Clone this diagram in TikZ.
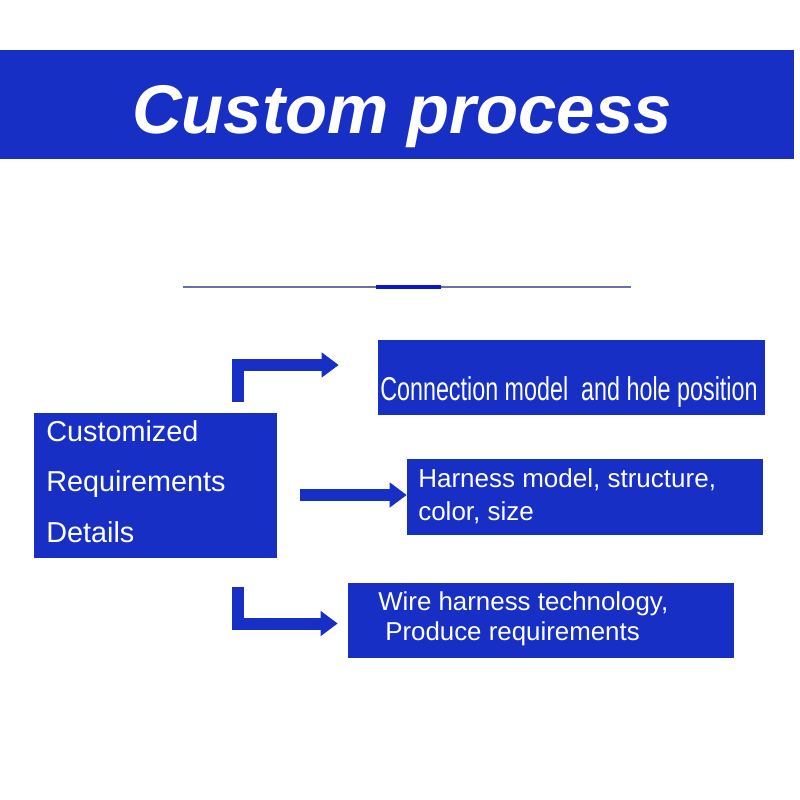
\documentclass[tikz,border=0pt]{standalone}
\usepackage{fontspec}
\setmainfont{Liberation Sans}
\usepackage{graphicx}
\usepackage{tikz}
\usetikzlibrary{arrows.meta, calc, positioning}
\definecolor{CPBlue}{RGB}{23,47,196}
\definecolor{CPLine}{RGB}{105,112,172}
\definecolor{CPDark}{RGB}{8,22,204}

\begin{document}
\begin{tikzpicture}[x=0.25mm, y=-0.25mm,
          bluebox/.style={rectangle, fill=CPBlue, inner sep=0pt},
          boxtext/.style={anchor=base west, inner sep=0pt, text=white, align=left},
          bigarr/.style={CPBlue, line width=3mm, line join=miter,
                         -{Triangle[length=4.25mm, width=6mm]}}
        ]
        \useasboundingbox (0,0) rectangle (800,800);
        \node[bluebox, minimum width=794*0.25mm, minimum height=109*0.25mm,
              anchor=north west] (banner) at (0,50) {};
        \node[anchor=base, inner sep=0pt, text=white,
              font=\fontsize{49}{58}\selectfont\bfseries\itshape] (title)
              at (402,133) {Custom process};

        \coordinate (lineL) at (183,287);
        \coordinate (lineR) at (631,287);
        \coordinate (markL) at (376,287);
        \coordinate (markR) at (441,287);
        \draw[CPLine, line width=0.45mm] (lineL) -- (lineR);
        \draw[CPDark, line width=1.2mm] (markL) -- (markR);

        \node[bluebox, minimum width=243*0.25mm, minimum height=145*0.25mm] (req)
              at (155.5,485.5) {};
        \node[bluebox, minimum width=387*0.25mm, minimum height=75*0.25mm] (conn)
              at (571.5,377.5) {};
        \node[bluebox, minimum width=356*0.25mm, minimum height=76*0.25mm] (harn)
              at (585,497) {};
        \node[bluebox, minimum width=386*0.25mm, minimum height=75*0.25mm] (wire)
              at (541,620.5) {};

        \node[boxtext, font=\fontsize{20.5}{35.6}\selectfont] (reqtext) at (46,542)
              {Customized\\Requirements\\Details};
        \node[boxtext, font=\fontsize{23.5}{28}\selectfont] (conntext) at (380,400)
              {\scalebox{0.706}[1]{Connection model\ \ and hole position}};
        \node[boxtext, font=\fontsize{18.5}{22.8}\selectfont] (harntext) at (418,520)
              {Harness model, structure,\\color, size};
        \node[boxtext, font=\fontsize{18.4}{21.3}\selectfont] (wiretext) at (378,640)
              {Wire harness technology,\\\hspace*{1.75mm}Produce requirements};

        \draw[bigarr] ($(req.north west)+(204.5,-11)$) |- ($(conn.west)+(-39,-12.5)$);
        \draw[bigarr] ($(req.east)+(23,9.5)$) -- ($(harn.west)+(0,-2)$);
        \draw[bigarr] ($(req.south west)+(204.5,29)$) |- ($(wire.west)+(-10,3)$);
      \end{tikzpicture}
\end{document}
